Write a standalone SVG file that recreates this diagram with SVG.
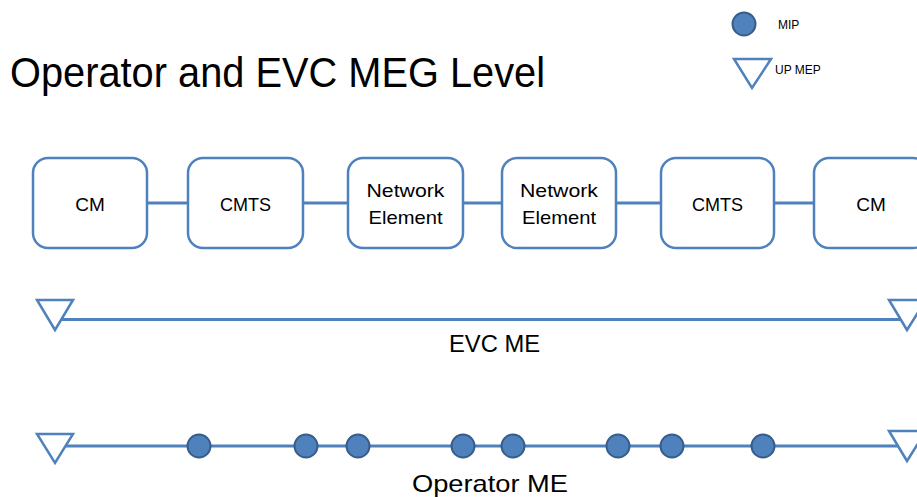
<svg xmlns="http://www.w3.org/2000/svg" width="917" height="497" viewBox="0 0 917 497">
<style>
.box{fill:#fff;stroke:#4F81BD;stroke-width:2.5}
.lbl{font-family:"Liberation Sans",Arial,sans-serif;font-size:19px;fill:#000;text-anchor:middle}
.line{stroke:#4F81BD;stroke-width:3;fill:none}
.mep{fill:#fff;stroke:#4F81BD;stroke-width:2.5;stroke-linejoin:miter}
.mip{fill:#4F81BD;stroke:#385D8A;stroke-width:2}
.big{font-family:"Liberation Sans",Arial,sans-serif;font-size:24px;fill:#000;text-anchor:middle}
.leg{font-family:"Liberation Sans",Arial,sans-serif;font-size:12px;fill:#000}
</style>
<rect width="917" height="497" fill="#fff"/>
<text x="10" y="87" font-family="'Liberation Sans',Arial,sans-serif" font-size="43" fill="#000" textLength="535" lengthAdjust="spacingAndGlyphs">Operator and EVC MEG Level</text>
<g id="legend">
<circle class="mip" cx="744" cy="24" r="11.5"/>
<text class="leg" x="778" y="29">MIP</text>
<polygon class="mep" points="734,59 771,59 752,88"/>
<text class="leg" x="775" y="74">UP MEP</text>
</g>
<g id="connectors">
<line class="line" x1="147" y1="203" x2="188" y2="203"/>
<line class="line" x1="303" y1="203" x2="348" y2="203"/>
<line class="line" x1="463" y1="203" x2="502" y2="203"/>
<line class="line" x1="616" y1="203" x2="661" y2="203"/>
<line class="line" x1="774" y1="203" x2="814" y2="203"/>
</g>
<g id="cm1"><rect class="box" x="33" y="158" width="114" height="90" rx="15"/><text class="lbl" x="90" y="211">CM</text></g>
<g id="cmts1"><rect class="box" x="188" y="158" width="115" height="90" rx="15"/><text class="lbl" x="245.5" y="211" textLength="51" lengthAdjust="spacingAndGlyphs">CMTS</text></g>
<g id="ne1"><rect class="box" x="348" y="158" width="115" height="90" rx="15"/><text class="lbl" x="405.5" y="197" textLength="78" lengthAdjust="spacingAndGlyphs">Network</text><text class="lbl" x="405.5" y="224" textLength="74" lengthAdjust="spacingAndGlyphs">Element</text></g>
<g id="ne2"><rect class="box" x="502" y="158" width="114" height="90" rx="15"/><text class="lbl" x="559" y="197" textLength="78" lengthAdjust="spacingAndGlyphs">Network</text><text class="lbl" x="559" y="224" textLength="74" lengthAdjust="spacingAndGlyphs">Element</text></g>
<g id="cmts2"><rect class="box" x="661" y="158" width="113" height="90" rx="15"/><text class="lbl" x="717.5" y="211" textLength="51" lengthAdjust="spacingAndGlyphs">CMTS</text></g>
<g id="cm2"><rect class="box" x="814" y="158" width="114" height="90" rx="15"/><text class="lbl" x="871" y="211">CM</text></g>
<g id="evc-me">
<line class="line" x1="62" y1="319.5" x2="900" y2="319.5"/>
<polygon class="mep" points="37,300 73,300 55,330"/>
<polygon class="mep" points="889,300 926,300 907,330"/>
<text class="big" x="494.5" y="352" textLength="91" lengthAdjust="spacingAndGlyphs">EVC ME</text>
</g>
<g id="operator-me">
<line class="line" x1="62" y1="446" x2="900" y2="446"/>
<polygon class="mep" points="37,434 73,434 55,463"/>
<polygon class="mep" points="889,431 926,431 907,461"/>
<circle class="mip" cx="199" cy="446" r="11.5"/>
<circle class="mip" cx="306" cy="446" r="11.5"/>
<circle class="mip" cx="358" cy="446" r="11.5"/>
<circle class="mip" cx="463" cy="446" r="11.5"/>
<circle class="mip" cx="513" cy="446" r="11.5"/>
<circle class="mip" cx="618" cy="446" r="11.5"/>
<circle class="mip" cx="672" cy="446" r="11.5"/>
<circle class="mip" cx="763" cy="446" r="11.5"/>
<text class="big" x="490" y="492" textLength="156" lengthAdjust="spacingAndGlyphs">Operator ME</text>
</g>
</svg>
